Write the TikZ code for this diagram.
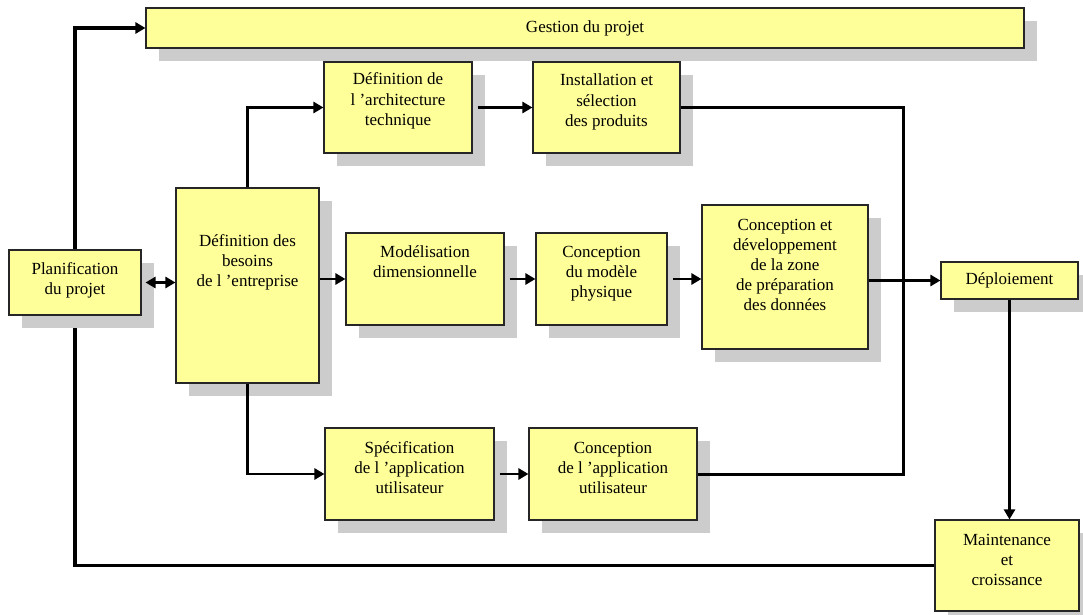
\documentclass[tikz,border=0pt]{standalone}
\usepackage{fontspec}
\setmainfont{Liberation Serif}
\usetikzlibrary{arrows.meta,shadows}
\definecolor{boxfill}{HTML}{FFFF99}
\definecolor{shade}{HTML}{CCCCCC}

\begin{document}
\begin{tikzpicture}[x=1pt,y=-1pt,
  box/.style={draw=black!85, line width=1.1pt, fill=boxfill, inner sep=0pt,
    drop shadow={shadow xshift=13pt, shadow yshift=-13pt, fill=shade, opacity=1}},
  txtfont/.style={font=\fontsize{17}{20}\selectfont},
  lbl/.style={align=center, anchor=base, inner sep=0pt, txtfont},
  link/.style={line width=2.7pt, line join=miter},
  tip/.tip={Triangle[length=10pt,width=11pt]},
  arr/.style={link, -tip},
]
\useasboundingbox (0,0) rectangle (1083,615);

% boxes
\node[box, txtfont, minimum width=878pt, minimum height=40pt]
  (gestion) at (585,28) {Gestion du projet};
\node[box, minimum width=132pt, minimum height=65pt]  (planif)   at (75,282.5) {};
\node[box, minimum width=143pt, minimum height=195pt] (besoins)  at (247.5,285.5) {};
\node[box, minimum width=148pt, minimum height=91pt]  (defarchi) at (398,107.5) {};
\node[box, minimum width=147pt, minimum height=91pt]  (install)  at (606.5,107.5) {};
\node[box, minimum width=158pt, minimum height=92pt]  (model)    at (425,279) {};
\node[box, minimum width=131pt, minimum height=92pt]  (concphys) at (601.5,279) {};
\node[box, minimum width=166pt, minimum height=144pt] (zone)     at (785,277) {};
\node[box, txtfont, minimum width=137pt, minimum height=37pt]
  (depl) at (1009.5,280.5) {Déploiement};
\node[box, minimum width=169pt, minimum height=92pt]  (spec)     at (409.5,474) {};
\node[box, minimum width=168pt, minimum height=92pt]  (concapp)  at (613,474) {};
\node[box, minimum width=144pt, minimum height=91pt]  (maint)    at (1007,565.5) {};

% box texts (anchored at the baseline of their last line)
\node[lbl] (planif-t)   at (75,294)    {Planification\\du projet};
\node[lbl] (besoins-t)  at (247.5,286) {Définition des\\besoins\\de l ’entreprise};
\node[lbl] (defarchi-t) at (398,125)   {Définition de\\l ’architecture\\technique};
\node[lbl] (install-t)  at (606.5,126) {Installation et\\sélection\\des produits};
\node[lbl] (model-t)    at (425,277)   {Modélisation\\dimensionnelle};
\node[lbl] (concphys-t) at (601.5,297) {Conception\\du modèle\\physique};
\node[lbl] (zone-t)     at (785,310)   {Conception et\\développement\\de la zone\\de préparation\\des données};
\node[lbl] (spec-t)     at (409.5,493) {Spécification\\de l ’application\\utilisateur};
\node[lbl] (concapp-t)  at (613,493)   {Conception\\de l ’application\\utilisateur};
\node[lbl] (maint-t)    at (1007,585)  {Maintenance\\et\\croissance};

% junction points
\coordinate (bus) at (903,280);
\coordinate (loopend) at (75,328);

% connectors
\draw[arr, line width=3.5pt] (planif.north) |- (gestion.west);
\draw[link, line width=3.5pt] (maint.west) -| (loopend);
\draw[link, tip-tip, shorten <=4pt] (planif.east) -- (planif.east -| besoins.west);
\draw[arr] (besoins.north) |- (defarchi.west);
\draw[arr, shorten <=5pt] (defarchi.east) -- (install.west);
\draw[arr] (besoins.east |- model.west) -- (model.west);
\draw[arr, shorten <=5pt] (model.east) -- (concphys.west);
\draw[arr, shorten <=5pt] (concphys.east) -- (concphys.east -| zone.west);
\draw[arr] (besoins.south) |- (spec.west);
\draw[arr, shorten <=5pt] (spec.east) -- (concapp.west);
\draw[link, line width=3pt] (install.east) -| (bus);
\draw[link, line width=3pt] (concapp.east) -| (bus);
\draw[arr, line width=3.2pt] (zone.east |- depl.west) -- (depl.west);
\draw[arr, line width=3.2pt] (depl.south) -- (depl.south |- maint.north);
\end{tikzpicture}
\end{document}
